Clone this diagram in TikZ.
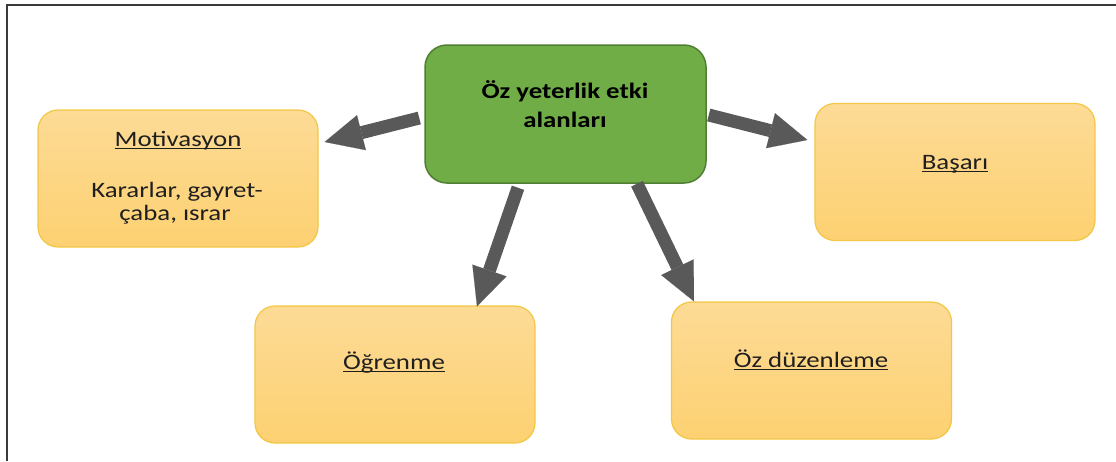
\documentclass[tikz,border=0pt]{standalone}
\usepackage{fontspec}
\setmainfont{Carlito}[FakeStretch=1.22]
\usetikzlibrary{arrows.meta,calc}

\definecolor{boxtop}{HTML}{FDDB96}
\definecolor{boxbot}{HTML}{FDD172}
\definecolor{boxedge}{HTML}{F2C744}
\definecolor{greenfill}{HTML}{70AD47}
\definecolor{greenedge}{HTML}{507E32}
\definecolor{arrowgray}{HTML}{595959}
\definecolor{ink}{HTML}{1F1F1F}
\definecolor{framecol}{HTML}{3A3A3A}

% underline at a fixed distance below the baseline
\newbox\ulbox
\newcommand{\ulword}[1]{\setbox\ulbox=\hbox{#1}\rlap{\vrule height -1.8pt depth 3.3pt width \wd\ulbox}\box\ulbox}

\begin{document}
\begin{tikzpicture}[x=1pt,y=1pt,
  areabox/.style={draw=boxedge, line width=1.2pt, rounded corners=20pt,
    top color=boxtop, bottom color=boxbot,
    minimum width=280pt, minimum height=137pt, inner sep=0pt},
  corebox/.style={draw=greenedge, line width=1.5pt, rounded corners=22pt,
    fill=greenfill, minimum width=281pt, minimum height=138pt, inner sep=0pt},
  txt/.style={anchor=base, inner sep=0pt, text=ink, font=\fontsize{22}{27}\selectfont},
  boldtxt/.style={txt, text=black, font=\fontsize{22}{27}\selectfont\bfseries},
  arr/.style={draw=arrowgray, line width=13pt,
    -{Triangle[length=38pt,width=36pt,line width=0.1pt]}}
]
\useasboundingbox (0,0) rectangle (1116,-461);

% frame
\draw[framecol, line width=2pt] (7,-461) -- (7,-5) -- (1116,-5);

% boxes
\node[corebox] (g) at (565.5,-114) {};
\node[areabox] (m) at (178,-178.5) {};
\node[areabox] (b) at (955,-172) {};
\node[areabox] (o) at (395,-374.5) {};
\node[areabox] (z) at (811.5,-370.5) {};

% texts
\node[boldtxt] (gt1) at (565,-98) {Öz yeterlik etki};
\node[boldtxt] (gt2) at (565,-127) {alanları};
\node[txt] (mt) at (178,-146) {\ulword{Motivasyon}};
\node[txt] (mb1) at (177,-197) {Kararlar, gayret-};
\node[txt] (mb2) at (175,-220) {çaba, ısrar};
\node[txt] (bt) at (955,-169) {\ulword{Başarı}};
\node[txt] (ot) at (394,-369) {\ulword{Öğrenme}};
\node[txt] (zt) at (811,-367) {\ulword{Öz düzenleme}};

% connectors
\draw[arr] ($(g.west)+(-5,-4)$) -- ($(m.east)+(6,36.5)$);
\draw[arr] ($(g.east)+(2,-1)$) -- ($(b.west)+(-7,32)$);
\draw[arr] ($(g.south)+(-47.5,-4)$) -- ($(o.north)+(82,-1)$);
\draw[arr] ($(g.south)+(71.5,0)$) -- ($(z.north)+(-117.5,0)$);
\end{tikzpicture}
\end{document}
